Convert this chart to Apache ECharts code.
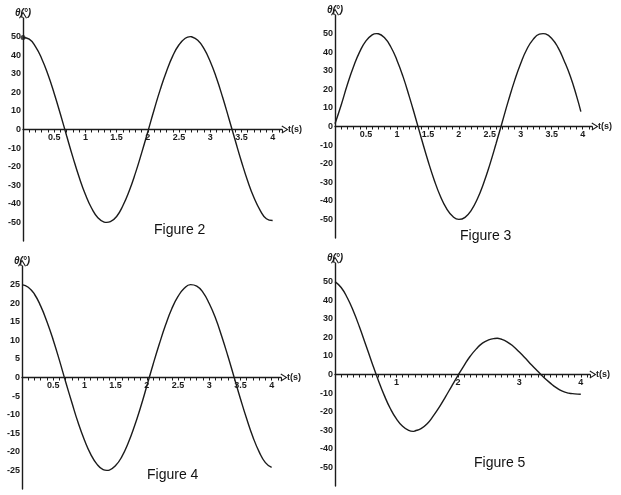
<!DOCTYPE html>
<html>
<head>
<meta charset="utf-8">
<script src="https://cdn.jsdelivr.net/npm/echarts@6/dist/echarts.min.js"></script>
<style>
html,body{margin:0;padding:0;background:#fff;}
#c{width:621px;height:495px;}
</style>
</head>
<body>
<div id="c"></div>
<script>
// Figure 2: time (s) and theta (deg)
const t2 = [0,0.1,0.2,0.3,0.4,0.5,0.6,0.7,0.8,0.9,1.0,1.1,1.2,1.3,1.34,1.4,1.5,1.6,1.7,1.8,1.9,2.0,
  2.1,2.2,2.3,2.4,2.5,2.6,2.68,2.7,2.8,2.9,3.0,3.1,3.2,3.3,3.4,3.5,3.6,3.7,3.8,3.9,4.0];
const fig2 = [49.5,48.6,44.6,38.1,29.6,19.4,8.2,-3.5,-15.0,-25.7,-35.0,-42.4,-47.5,-49.8,-50.0,-49.6,-46.8,-41.0,-33.2,-23.6,-12.7,-1.2,
  10.5,21.6,31.4,39.6,45.6,49.1,50.0,49.9,48.0,43.5,36.6,27.7,17.2,5.8,-5.8,-17.2,-27.7,-36.6,-43.5,-48.0,-49.0];
// Figure 3
const t3 = [0,0.1,0.2,0.3,0.4,0.5,0.6,0.67,0.7,0.8,0.9,1.0,1.1,1.2,1.3,1.4,1.5,1.6,1.7,1.8,1.9,2.0,
  2.1,2.2,2.3,2.4,2.5,2.6,2.7,2.8,2.9,3.0,3.1,3.2,3.3,3.36,3.4,3.5,3.6,3.7,3.8,3.9,3.97];
const fig3 = [1.5,11.6,22.6,32.3,40.3,46.1,49.3,50.0,49.9,47.7,42.9,35.7,26.7,16.1,4.7,-7.0,-18.3,-28.6,-37.4,-44.1,-48.3,-50.0,
  -48.9,-45.1,-38.9,-30.5,-20.5,-9.3,2.3,13.9,24.7,34.1,41.7,46.9,49.7,50.0,49.8,47.4,42.6,35.4,27.0,16.5,8.0];
// Figure 4
const t4 = [0,0.1,0.2,0.3,0.4,0.5,0.6,0.7,0.8,0.9,1.0,1.1,1.2,1.3,1.36,1.4,1.5,1.6,1.7,1.8,1.9,2.0,
  2.1,2.2,2.3,2.4,2.5,2.6,2.7,2.8,2.9,3.0,3.1,3.2,3.3,3.4,3.5,3.6,3.7,3.8,3.9,4.0];
const fig4 = [25.0,24.3,22.4,19.2,15.0,10.1,4.6,-1.2,-6.8,-12.2,-16.8,-20.6,-23.3,-24.8,-25.0,-24.9,-23.7,-21.3,-17.7,-13.2,-8.0,-2.3,
  3.5,9.0,14.1,18.5,21.8,24.0,25.0,24.6,22.9,19.9,16.0,11.1,5.7,0.0,-5.7,-11.1,-16.0,-20.0,-22.9,-24.2];
// Figure 5 (damped)
const t5 = [0,0.1,0.2,0.3,0.4,0.5,0.6,0.7,0.8,0.9,1.0,1.1,1.2,1.27,1.3,1.4,1.5,1.6,1.7,1.8,1.9,2.0,
  2.1,2.2,2.3,2.4,2.5,2.6,2.64,2.7,2.8,2.9,3.0,3.1,3.2,3.3,3.4,3.5,3.6,3.7,3.8,3.9,4.0];
const fig5 = [50.0,46.8,41.3,34.0,25.4,16.0,6.5,-2.7,-11.1,-18.3,-23.9,-27.9,-30.1,-30.6,-30.4,-29.1,-26.5,-22.3,-17.4,-11.9,-6.2,-0.6,
  4.8,9.8,13.8,16.9,18.6,19.4,19.5,19.1,17.6,15.2,12.1,8.7,5.1,1.7,-1.6,-4.5,-7.1,-9.0,-10.0,-10.4,-10.6];

// tick labels
const xLabelsA = [0.5,1,1.5,2,2.5,3,3.5,4];
const xLabels5 = [1,2,3,4];
const yLabels50 = [-50,-40,-30,-20,-10,0,10,20,30,40,50];
const yLabels25 = [-25,-20,-15,-10,-5,0,5,10,15,20,25];
const captions = ['Figure 2','Figure 3','Figure 4','Figure 5'];
const yName = 'θ(°)';
const xName = 't(s)';

const ink = '#1b1b1b';
const font = 'Liberation Sans, Arial, sans-serif';
const arrow = 'path://M5,0 L10,8 L8.8,8.7 L5,2.4 L1.2,8.7 L0,8 Z';

function pairs(ts, ys){ return ts.map((t,i)=>[t, ys[i]]); }
function fmt(list){
  return function(v){
    for (const l of list){ if (Math.abs(v - l) < 1e-6) return String(l); }
    return '';
  };
}

const grids = [
  {left:23, top:18, width:259, height:223},
  {left:335, top:15, width:257, height:223},
  {left:22, top:266, width:259, height:223},
  {left:335, top:263, width:255, height:223}
];
const yRanges = [[-60,60,10,yLabels50],[-60,60,10,yLabels50],[-30,30,5,yLabels25],[-60,60,10,yLabels50]];
const xLabelSets = [xLabelsA,xLabelsA,xLabelsA,xLabels5];
const seriesT = [t2,t3,t4,t5];
const seriesData = [fig2,fig3,fig4,fig5];

const xAxes = [], yAxes = [], series = [];
for (let i=0;i<4;i++){
  xAxes.push({
    type:'value', gridIndex:i, min:0, max:4.15, interval:0.1, position:'bottom',
    offset:-grids[i].height/2,
    splitLine:{show:false},
    axisLine:{onZero:false, lineStyle:{color:ink, width:1.4}, symbol:['none',arrow], symbolSize:[8,9], symbolOffset:[0,3]},
    axisTick:{show:true, length:3, lineStyle:{color:ink, width:1}},
    axisLabel:{formatter:fmt(xLabelSets[i]), color:ink, fontSize:9, fontWeight:'bold', fontFamily:font, margin:4},
    name:xName, nameLocation:'end', nameGap:6,
    nameTextStyle:{color:ink, fontSize:9, fontWeight:'bold', fontFamily:font, padding:[9,0,0,0]}
  });
  const yr = yRanges[i];
  yAxes.push({
    type:'value', gridIndex:i, min:yr[0], max:yr[1], interval:yr[2],
    splitLine:{show:false},
    axisLine:{onZero:false, lineStyle:{color:ink, width:1.4}, symbol:['none',arrow], symbolSize:[8,9], symbolOffset:[0,3]},
    axisTick:{show:false},
    axisLabel:{formatter:fmt(yr[3]), color:ink, fontSize:9, fontWeight:'bold', fontFamily:font, margin:2},
    name:yName, nameLocation:'end', nameGap:0,
    nameTextStyle:{color:ink, fontSize:10, fontWeight:'bold', fontStyle:'italic', fontFamily:font, align:'center'}
  });
  series.push({
    type:'line', xAxisIndex:i, yAxisIndex:i, data:pairs(seriesT[i], seriesData[i]),
    smooth:true, showSymbol:false, symbol:'none',
    lineStyle:{color:ink, width:1.4}, animation:false, silent:true
  });
}
series.push({
  type:'scatter', xAxisIndex:0, yAxisIndex:0, data:[[t2[0], fig2[0]]],
  symbol:'circle', symbolSize:5, itemStyle:{color:ink}, animation:false, silent:true
});

const capPos = [[154,223],[460,229],[147,468],[474,456]];
const titles = captions.map((c,i)=>({
  text:c, left:capPos[i][0], top:capPos[i][1], padding:0,
  textStyle:{fontSize:14, fontWeight:'normal', color:'#111', fontFamily:font}
}));

const chart = echarts.init(document.getElementById('c'), null, {renderer:'canvas'});
chart.setOption({
  animation:false,
  backgroundColor:'#fff',
  title:titles,
  grid:grids,
  xAxis:xAxes,
  yAxis:yAxes,
  series:series
});
</script>
</body>
</html>
